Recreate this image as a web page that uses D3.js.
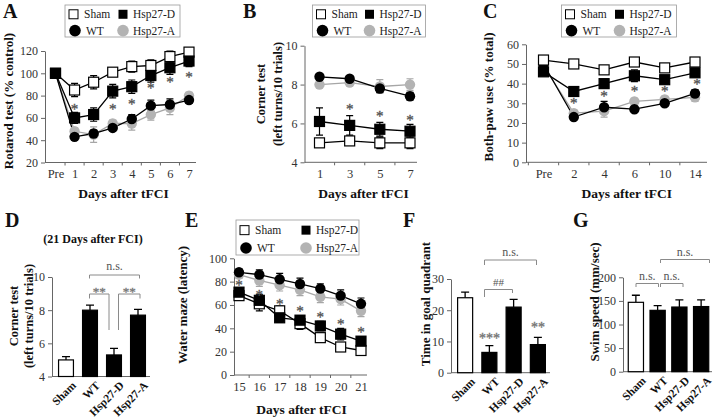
<!DOCTYPE html>
<html><head><meta charset="utf-8">
<script src="https://cdn.jsdelivr.net/npm/d3@7"></script>
<style>
body{margin:0;background:#fff}
text{font-family:"Liberation Serif","Times New Roman",serif}
.st{opacity:0.99}
</style></head><body>
<svg id="c" width="720" height="419"></svg>
<script>
// ---------- DATA ----------
const seriesNames = ["Sham", "Hsp27-D", "WT", "Hsp27-A"];
const groups = ["Sham", "WT", "Hsp27-D", "Hsp27-A"];

// Panel A: rotarod
const daysA = ["Pre", "1", "2", "3", "4", "5", "6", "7"];
const shamA = [100, 85, 92, 101, 106, 107, 115, 119];
const shamAErr = [0, 6, 6, 3, 5, 5, 5, 3];
const hdA = [100, 60, 63, 84, 88, 98, 105, 111];
const hdAErr = [0, 5, 6, 6, 6, 6, 6, 5];
const wtA = [100, 43, 46, 51, 59, 71, 72, 76];
const wtAErr = [0, 2, 3, 2, 4, 5, 5, 3];
const haA = [100, 48, 45, 55, 55, 63, 69, 80];
const haAErr = [0, 3, 7, 3, 6, 5, 6, 3];
const starA = [null, 70, null, 70, 75, 89, 94, 99];
const ticksA = [20, 40, 60, 80, 100, 120];

// Panel B: corner test
const daysB = ["1", "3", "5", "7"];
const shamB = [5.0, 5.1, 5.0, 5.0];
const shamBErr = [0.2, 0.2, 0.3, 0.3];
const hdB = [6.1, 5.9, 5.7, 5.6];
const hdBErr = [0.7, 0.5, 0.35, 0.35];
const wtB = [8.4, 8.3, 7.8, 7.4];
const wtBErr = [0.15, 0.15, 0.2, 0.2];
const haB = [8.0, 8.1, 7.9, 8.0];
const haBErr = [0.15, 0.15, 0.35, 0.3];
const starB = [null, 6.85, 6.5, 6.3];
const ticksB = [4, 6, 8, 10];

// Panel C: both-paw use
const daysC = ["Pre", "2", "4", "6", "10", "14"];
const shamC = [52, 50, 47, 51, 48, 51];
const shamCErr = [1, 1, 1, 1, 1, 1];
const hdC = [46, 36, 40, 44, 42, 45.5];
const hdCErr = [1, 1.5, 2, 3, 2, 2];
const wtC = [50, 23, 28, 27, 30, 35];
const wtCErr = [1, 1, 3, 1, 1.5, 2];
const haC = [49, 25, 26, 31, 32, 33];
const haCErr = [1, 1.5, 3, 1.5, 1.5, 2];
const starC = [null, 31.5, 35, 37.5, 37.5, 41];
const ticksC = [0, 10, 20, 30, 40, 50, 60];

// Panel D: corner test at 21 days
const cornerD = [5.0, 8.0, 5.3, 7.7];
const cornerDErr = [0.2, 0.3, 0.4, 0.35];
const ticksD = [4, 6, 8, 10];

// Panel E: water maze latency
const daysE = ["15", "16", "17", "18", "19", "20", "21"];
const shamE = [68, 61, 55, 44, 32, 24, 21];
const shamEErr = [3, 6, 4, 5, 3, 3, 4];
const hdE = [71, 64, 49, 47, 42, 35, 29];
const hdEErr = [4, 5, 4, 4, 4, 5, 4];
const wtE = [88, 86, 82, 78, 74, 68, 61];
const wtEErr = [3, 4, 5, 5, 4, 5, 5];
const haE = [86, 81, 77, 73, 67, 65, 55];
const haEErr = [3, 5, 5, 5, 5, 5, 5];
const starE = [79, 71, 63, 57, 52, 46, 39];
const ticksE = [0, 20, 40, 60, 80, 100];

// Panel F: time in goal quadrant
const goalF = [24, 6.5, 21, 9];
const goalFErr = [1.8, 2.2, 2.5, 2.3];
const starF = ["", "***", "", "**"];
const ticksF = [0, 10, 20, 30];

// Panel G: swim speed
const speedG = [147, 130, 137, 138];
const speedGErr = [15, 10, 15, 14];
const ticksG = [0, 50, 100, 150, 200];

// ---------- DRAWING ----------
const svg = d3.select("#c");
const FONT = '"Liberation Serif", "Times New Roman", serif';
const AX = "#666";
const GRAYM = "#b3b3b3", GRAYL = "#a6a6a6";
const fmt = d3.format("d");

function styleAxis(a) {
  a.attr("font-family", FONT).attr("font-size", 12);
  a.select(".domain").attr("stroke", AX);
  a.selectAll(".tick line").attr("stroke", AX);
  a.selectAll(".tick text").attr("fill", "#333");
}
function panelLetter(t, x, y) {
  svg.append("text").attr("x", x).attr("y", y).attr("font-size", 20)
    .attr("font-weight", "bold").attr("fill", "#111").text(t);
}
function yLabel(lines, x, cy, fs, lh) {
  const t = svg.append("text").attr("transform", `translate(${x},${cy}) rotate(-90)`)
    .attr("text-anchor", "middle").attr("font-size", fs).attr("font-weight", "bold").attr("fill", "#111");
  const step = lh || fs * 1.05;
  lines.forEach((l, i) => {
    t.append("tspan").attr("x", 0).attr("dy", i === 0 ? -(lines.length - 1) * step : step).text(l);
  });
}
function xLabel(t, cx, y) {
  svg.append("text").attr("x", cx).attr("y", y).attr("text-anchor", "middle")
    .attr("font-size", 13.5).attr("font-weight", "bold").attr("fill", "#111").text(t);
}
function star(g, x, y, s, fs, col) {
  g.append("text").attr("class", "st").attr("x", x).attr("y", y).attr("text-anchor", "middle")
    .attr("font-family", "Liberation Serif").attr("font-size", fs).attr("fill", col)
    .attr("stroke", col).attr("stroke-width", 0.35).text(s);
}
function legend(x, y, w, h, c2) {
  const g = svg.append("g").attr("transform", `translate(${x},${y})`);
  g.append("rect").attr("width", w).attr("height", h).attr("fill", "#fff").attr("stroke", "#999").attr("stroke-width", 0.8);
  const r1 = h * 0.29, r2 = h * 0.8;
  g.append("rect").attr("x", 4).attr("y", r1 - 4.5).attr("width", 9).attr("height", 9).attr("fill", "#fff").attr("stroke", "#000");
  g.append("text").attr("x", 19).attr("y", r1 + 4).attr("font-size", 11.5).attr("fill", "#222").text(seriesNames[0]);
  g.append("rect").attr("x", c2 - 4.5).attr("y", r1 - 4.5).attr("width", 9).attr("height", 9).attr("fill", "#000");
  g.append("text").attr("x", c2 + 10).attr("y", r1 + 4).attr("font-size", 11.5).attr("fill", "#222").text(seriesNames[1]);
  g.append("circle").attr("cx", 10).attr("cy", r2).attr("r", 5.8).attr("fill", "#000");
  g.append("text").attr("x", 21).attr("y", r2 + 4).attr("font-size", 11.5).attr("fill", "#222").text(seriesNames[2]);
  g.append("circle").attr("cx", c2).attr("cy", r2).attr("r", 5.8).attr("fill", GRAYM);
  g.append("text").attr("x", c2 + 10).attr("y", r2 + 4).attr("font-size", 11.5).attr("fill", "#222").text(seriesNames[3]);
}

function linePanel(o) {
  const x = d3.scalePoint().domain(o.cats).range(o.xr);
  const y = d3.scaleLinear().domain(o.yd).range(o.yr);
  const g = svg.append("g");
  const ya = g.append("g").attr("transform", `translate(${o.ax0},0)`)
    .call(d3.axisLeft(y).tickValues(o.yt).tickFormat(fmt).tickSize(4).tickSizeOuter(0).tickPadding(3));
  styleAxis(ya);
  const xa = g.append("g").attr("transform", `translate(0,${o.yr[0]})`)
    .call(d3.axisBottom(x).tickSize(0).tickPadding(7));
  styleAxis(xa);
  xa.select(".domain").attr("d", `M${o.ax0},0H${o.ax1}`);
  xa.attr("font-size", 12.5);
  const st = x.step();
  const bt = d3.range(o.cats.length + 1).map(i => x(o.cats[0]) - st / 2 + i * st)
    .filter(p => p > o.ax0 + 2 && p < o.ax1 + 1);
  g.selectAll(".bt").data(bt).enter().append("line")
    .attr("x1", d => d).attr("x2", d => d).attr("y1", o.yr[0]).attr("y2", o.yr[0] + 3).attr("stroke", AX);

  const ser = [
    { v: o.ha, e: o.haE, shape: "c", fill: GRAYM, col: GRAYL },
    { v: o.wt, e: o.wtE, shape: "c", fill: "#000", col: "#000" },
    { v: o.sham, e: o.shamE, shape: "s", fill: "#fff", col: "#000" },
    { v: o.hd, e: o.hdE, shape: "s", fill: "#000", col: "#000" }
  ];
  const line = d3.line().x((d, i) => x(o.cats[i])).y(d => y(d));
  ser.forEach(s => {
    g.append("path").attr("d", line(s.v)).attr("fill", "none").attr("stroke", s.col).attr("stroke-width", 1.3);
  });
  ser.forEach(s => {
    s.v.forEach((v, i) => {
      const e = s.e[i];
      if (!e) return;
      const cx = x(o.cats[i]);
      g.append("path").attr("d",
        `M${cx},${y(v - e)}V${y(v + e)}M${cx - 3.5},${y(v + e)}H${cx + 3.5}M${cx - 3.5},${y(v - e)}H${cx + 3.5}`)
        .attr("stroke", s.col).attr("stroke-width", 1.2).attr("fill", "none");
    });
  });
  ser.forEach(s => {
    s.v.forEach((v, i) => {
      const cx = x(o.cats[i]), cy = y(v);
      if (s.shape === "c") {
        g.append("circle").attr("cx", cx).attr("cy", cy).attr("r", 5.2).attr("fill", s.fill);
      } else {
        g.append("rect").attr("x", cx - 5).attr("y", cy - 5).attr("width", 10).attr("height", 10)
          .attr("fill", s.fill).attr("stroke", "#000").attr("stroke-width", 1.2);
      }
    });
  });
  o.stars.forEach((v, i) => {
    if (v == null) return;
    star(g, x(o.cats[i]) + (o.starDx ? o.starDx[i] : 0), y(v) + 7.5, "*", 15, "#555");
  });
}

function bracket(g, x1, x2, yt, yb1, yb2, label, ly, fs) {
  g.append("path").attr("d", `M${x1},${yb1}V${yt}H${x2}V${yb2}`).attr("fill", "none")
    .attr("stroke", "#8a8a8a").attr("stroke-width", 1);
  if (label) g.append("text").attr("x", (x1 + x2) / 2).attr("y", ly).attr("text-anchor", "middle")
    .attr("font-size", fs || 12).attr("fill", "#555").text(label);
}

function barPanel(o) {
  const x = d3.scaleBand().domain(groups).range(o.xr).paddingInner(o.pad).paddingOuter(o.pad / 2);
  const y = d3.scaleLinear().domain(o.yd).range(o.yr);
  const g = svg.append("g");
  const ya = g.append("g").attr("transform", `translate(${o.xr[0] - 2},0)`)
    .call(d3.axisLeft(y).tickValues(o.yt).tickFormat(fmt).tickSize(4).tickSizeOuter(0).tickPadding(3));
  styleAxis(ya);
  g.append("line").attr("x1", o.xr[0] - 2).attr("x2", o.xr[1]).attr("y1", o.yr[0]).attr("y2", o.yr[0]).attr("stroke", AX);
  o.vals.forEach((v, i) => {
    const bx = x(groups[i]), bw = x.bandwidth(), cx = bx + bw / 2;
    const e = o.errs[i];
    g.append("path").attr("d", `M${cx},${y(v)}V${y(v + e)}M${cx - 4},${y(v + e)}H${cx + 4}`)
      .attr("stroke", "#000").attr("stroke-width", 1.3);
    g.append("rect").attr("x", bx).attr("y", y(v)).attr("width", bw).attr("height", y(o.yd[0]) - y(v))
      .attr("fill", i === 0 ? "#fff" : "#000").attr("stroke", "#000").attr("stroke-width", 1.2);
    g.append("text").attr("transform", `translate(${cx + 5},${o.yr[0] + 4}) rotate(-45)`)
      .attr("text-anchor", "end").attr("dy", "0.7em").attr("font-size", 11.5).attr("font-weight", "bold")
      .attr("fill", "#111").text(groups[i]);
  });
  return { x, y, g };
}

// ----- Panel A -----
panelLetter("A", 3, 18);
legend(65, 5, 115, 32, 58);
linePanel({ cats: daysA, xr: [55.5, 189], ax0: 45, ax1: 196, yd: [20, 120], yr: [162.5, 51], yt: ticksA,
  sham: shamA, shamE: shamAErr, hd: hdA, hdE: hdAErr, wt: wtA, wtE: wtAErr, ha: haA, haE: haAErr, stars: starA });
yLabel(["Rotarod test (% control)"], 13, 101, 13);
xLabel("Days after tFCI", 123.5, 198);

// ----- Panel B -----
panelLetter("B", 243, 18);
legend(312.5, 5, 113, 32, 57);
linePanel({ cats: daysB, xr: [319.5, 410], ax0: 304.5, ax1: 417, yd: [4, 10], yr: [162.3, 45.7], yt: ticksB,
  sham: shamB, shamE: shamBErr, hd: hdB, hdE: hdBErr, wt: wtB, wtE: wtBErr, ha: haB, haE: haBErr, stars: starB });
yLabel(["Corner test", "(left turns/10 trials)"], 282, 94, 12.5, 17);
xLabel("Days after tFCI", 363.5, 198);

// ----- Panel C -----
panelLetter("C", 483, 18);
legend(561.5, 5, 115, 32, 58);
linePanel({ cats: daysC, xr: [543.5, 695], ax0: 526, ax1: 707, yd: [0, 60], yr: [162.3, 44.3], yt: ticksC,
  sham: shamC, shamE: shamCErr, hd: hdC, hdE: hdCErr, wt: wtC, wtE: wtCErr, ha: haC, haE: haCErr, stars: starC,
  starDx: [0, 0, 0, 0, 0, 2] });
yLabel(["Both-paw use (% total)"], 492.5, 97, 13);
xLabel("Days after tFCI", 626.7, 198);

// ----- Panel D -----
panelLetter("D", 5, 227);
svg.append("text").attr("x", 93).attr("y", 243).attr("text-anchor", "middle").attr("font-size", 12)
  .attr("font-weight", "bold").attr("fill", "#111").text("(21 Days after FCI)");
const pD = barPanel({ xr: [54, 150], pad: 0.38, yd: [4, 10], yr: [376.5, 277], yt: ticksD, vals: cornerD, errs: cornerDErr });
bracket(pD.g, 89.5, 139.5, 275, 278.5, 278.5, "n.s.", 270);
bracket(pD.g, 89.5, 109, 294, 298.5, 330, "", 0);
bracket(pD.g, 118.5, 140, 294, 330, 298.5, "", 0);
star(pD.g, 99.25, 296, "**", 13, "#777");
star(pD.g, 129.25, 296, "**", 13, "#777");
yLabel(["Corner test", "(left turns/10 trials)"], 33, 316, 12.5, 15);

// ----- Panel E -----
panelLetter("E", 185, 227);
legend(236, 220, 123, 35, 70);
linePanel({ cats: daysE, xr: [239, 361], ax0: 234, ax1: 367, yd: [0, 100], yr: [375, 258.3], yt: ticksE,
  sham: shamE, shamE: shamEErr, hd: hdE, hdE: hdEErr, wt: wtE, wtE: wtEErr, ha: haE, haE: haEErr, stars: starE });
yLabel(["Water maze (latency)"], 186.5, 305, 13);
xLabel("Days after tFCI", 301.5, 414);

// ----- Panel F -----
panelLetter("F", 403, 227);
const pF = barPanel({ xr: [453, 550], pad: 0.38, yd: [0, 30], yr: [372.7, 279], yt: ticksF, vals: goalF, errs: goalFErr });
starF.forEach((s, i) => {
  if (!s) return;
  const cx = pF.x(groups[i]) + pF.x.bandwidth() / 2;
  star(pF.g, cx, pF.y(goalF[i] + goalFErr[i]) - (i === 1 ? 2.5 : 5), s, 14, "#777");
});
bracket(pF.g, 484.5, 536.5, 260, 265, 265, "n.s.", 256);
bracket(pF.g, 484.5, 512.5, 289.5, 297, 293, "##", 286, 11);
yLabel(["Time in goal quadrant"], 429.5, 304, 13);

// ----- Panel G -----
panelLetter("G", 573, 227);
const pG = barPanel({ xr: [625, 712], pad: 0.3, yd: [0, 200], yr: [371.7, 277.3], yt: ticksG, vals: speedG, errs: speedGErr });
bracket(pG.g, 636, 658.5, 283.5, 287, 287, "n.s.", 280);
bracket(pG.g, 660.5, 683, 283.5, 287, 287, "n.s.", 280);
bracket(pG.g, 660.5, 709.5, 259.5, 263, 263, "n.s.", 256);
yLabel(["Swim speed (mm/sec)"], 599, 302, 13);
</script>
</body></html>
